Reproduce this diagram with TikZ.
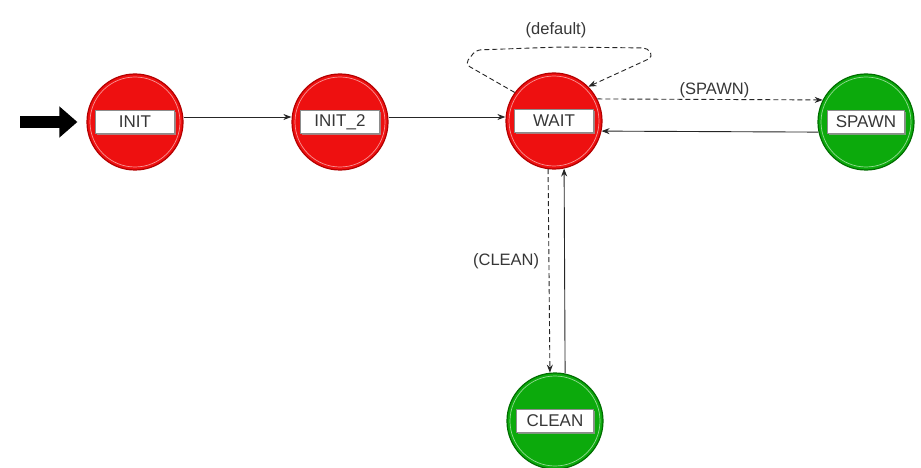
\documentclass[tikz,border=0pt]{standalone}
\usepackage{fontspec}
\setmainfont{Liberation Sans}
\usetikzlibrary{arrows.meta,shadows}
\definecolor{stRed}{RGB}{238,16,16}
\definecolor{stRedD}{RGB}{180,0,0}
\definecolor{stGreen}{RGB}{12,170,12}
\definecolor{stGreenD}{RGB}{0,110,0}
\definecolor{txtGray}{RGB}{55,55,55}
\tikzset{
  stateR/.style={circle, minimum size=96pt, inner sep=0pt, fill=stRed, draw=stRedD, line width=1.2pt},
  stateG/.style={circle, minimum size=96pt, inner sep=0pt, fill=stGreen, draw=stGreenD, line width=1.2pt},
  ringR/.style={circle, minimum size=90pt, inner sep=0pt, draw=white!55!stRed, line width=0.7pt},
  ringG/.style={circle, minimum size=90pt, inner sep=0pt, draw=white!55!stGreen, line width=0.7pt},
  lbl/.style={rectangle, fill=white, draw=black!45, line width=0.5pt, minimum width=79pt, minimum height=23pt,
     inner sep=0pt, font=\fontsize{17}{19}\selectfont, text=txtGray,
     drop shadow={shadow xshift=1.5pt, shadow yshift=-1.5pt, fill=black!40, opacity=0.8}},
  trans/.style={draw=black!85, line width=0.9pt, -{Stealth[length=8pt,width=6pt]}},
  dtrans/.style={trans, dash pattern=on 5pt off 3pt},
  cond/.style={font=\fontsize{16.5}{18}\selectfont, text=txtGray},
}
\begin{document}
\begin{tikzpicture}[x=1pt,y=-1pt]
\useasboundingbox[fill=white] (0,0) rectangle (921,468);
% states
\node[stateR] (init) at (135,122) {};
\node[ringR] (initR) at (135,122) {};
\node[lbl] (initL) at (initR.center) {INIT};
\node[stateR] (init2) at (340,122) {};
\node[ringR] (init2R) at (340,122) {};
\node[lbl] (init2L) at (init2R.center) {INIT\_2};
\node[stateR] (wait) at (554,121) {};
\node[ringR] (waitR) at (554,121) {};
\node[lbl] (waitL) at (waitR.center) {WAIT};
\node[stateG] (spawn) at (866,122) {};
\node[ringG] (spawnR) at (866,122) {};
\node[lbl, minimum width=77pt] (spawnL) at (spawnR.center) {SPAWN};
\node[stateG] (clean) at (555,421) {};
\node[ringG] (cleanR) at (555,421) {};
\node[lbl, minimum width=77pt] (cleanL) at (cleanR.center) {CLEAN};
% start arrow
\coordinate (start) at (20,122);
\draw[line width=12pt, -{Triangle[length=18pt,width=30pt]}] (start) -- ([xshift=-9pt]init.west);
% transitions
\draw[trans] ([yshift=5pt]init.east) -- ([yshift=5pt]init2.west);
\draw[trans] ([yshift=5pt]init2.east) -- ([yshift=4pt]wait.west);
\draw[dtrans] (wait.27) -- node[cond, above, pos=0.52, yshift=-2pt] {(SPAWN)} (spawn.153);
\draw[trans] (spawn.192) -- (wait.-12);
\draw[dtrans] (wait.263) -- node[cond, left, pos=0.45, xshift=-6pt] {(CLEAN)} (clean.96);
\draw[trans] (clean.78) -- (wait.282);
\draw[dtrans, rounded corners=5pt] (wait.144) -- (465,64) -- (476,50) -- (560,47) -- (648,48) -- (653,57) -- (wait.45);
\node[cond] (deflt) at (556,30) {(default)};
\end{tikzpicture}
\end{document}
